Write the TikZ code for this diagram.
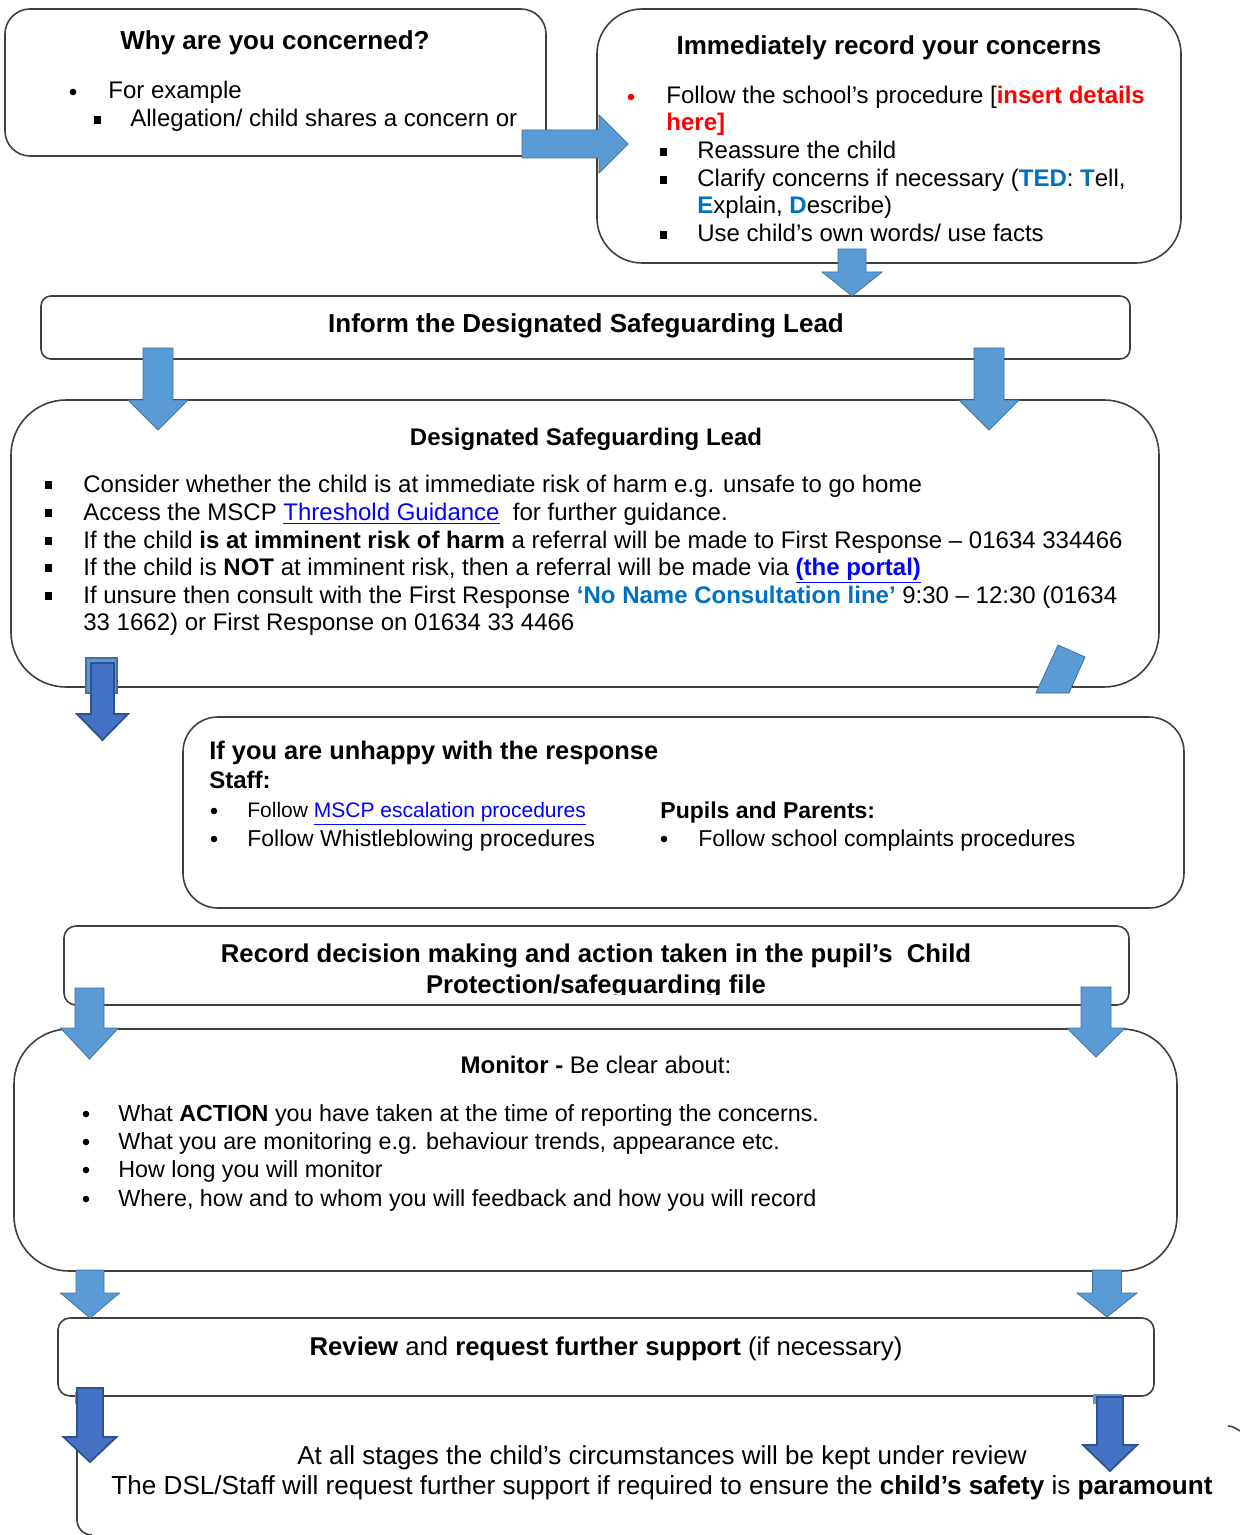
\documentclass[tikz,border=0pt]{standalone}
\usepackage{fontspec}
\setmainfont{Liberation Sans}
\usepackage{xcolor}
\definecolor{lightarrow}{HTML}{5B9BD5}
\definecolor{lightedge}{HTML}{41719C}
\definecolor{darkarrow}{HTML}{4472C4}
\definecolor{darkedge}{HTML}{2F528F}
\definecolor{boxline}{HTML}{404040}
\definecolor{tedblue}{HTML}{0070C0}
\definecolor{linkblue}{HTML}{0000FF}
\definecolor{redtext}{HTML}{FF0000}
\newcommand{\dnarrow}[7]{%
 \filldraw[#1] ({#2-#6},#3) -- ({#2+#6},#3) -- ({#2+#6},#4) -- ({#2+#7},#4) -- (#2,#5) -- ({#2-#7},#4) -- ({#2-#6},#4) -- cycle;}
\newcommand{\sqb}[2]{\fill ({#1-3.5},{#2-3.8}) rectangle ({#1+3.5},{#2+3.8});}
\newcommand{\rdb}[2]{\fill (#1,#2) circle[radius=3.3];}
\begin{document}
\begin{tikzpicture}[x=0.5pt,y=-0.5pt,
  boxst/.style={draw=boxline, line width=0.8pt, fill=white, rectangle, inner sep=0pt},
  ttl/.style={anchor=base, inner sep=0pt, font=\fontsize{13}{15}\selectfont\bfseries},
  body/.style={anchor=base west, inner sep=0pt, font=\fontsize{12}{14}\selectfont},
  bodys/.style={anchor=base west, inner sep=0pt, font=\fontsize{11.5}{14}\selectfont},
  bodym/.style={anchor=base west, inner sep=0pt, font=\fontsize{11.65}{14}\selectfont},
  lighta/.style={fill=lightarrow, draw=lightedge, line width=0.4pt},
  darka/.style={fill=darkarrow, draw=darkedge, line width=0.9pt}]
\useasboundingbox (0,0) rectangle (1240,1535);

% ---------- boxes ----------
\node[boxst, rounded corners=12.5pt, minimum width=270.5pt, minimum height=73.5pt] (why) at (275.5,82.5) {};
\node[boxst, rounded corners=22.5pt, minimum width=292pt, minimum height=127pt] (rec) at (889,136) {};
\node[boxst, rounded corners=5pt, minimum width=544.5pt, minimum height=31.5pt] (inform) at (585.5,327.5) {};
\node[boxst, rounded corners=27.5pt, minimum width=574pt, minimum height=143.5pt] (dsl) at (585,543.5) {};
\node[boxst, rounded corners=17.5pt, minimum width=500.5pt, minimum height=95.5pt] (unhappy) at (683.5,812.5) {};
\node[boxst, rounded corners=6pt, minimum width=532.5pt, minimum height=39.5pt] (record) at (596.5,965.5) {};
\node[boxst, rounded corners=27.5pt, minimum width=581.5pt, minimum height=121pt] (monitor) at (595.5,1150) {};
\node[boxst, rounded corners=6pt, minimum width=548pt, minimum height=39pt] (review) at (606,1357) {};
\coordinate (fintop) at (77,1447);
\coordinate (finbot) at (92,1535);
\draw[boxline, line width=0.8pt] (fintop) -- (77,1520) to[out=-90,in=180] (finbot);
\draw[boxline, line width=0.8pt] (1228,1426) to[out=0,in=150] (1240,1431);

% ---------- why ----------
\node[ttl] (whyt) at (275,50) {Why are you concerned?};
\rdb{73}{92}
\node[body] (why1) at (108,99) {For example};
\sqb{97}{120}
\node[body] (why2) at (130,127) {Allegation/ child shares a concern or};

% ---------- record concerns ----------
\node[ttl] (rect) at (889,55) {Immediately record your concerns};
{\color{redtext}\rdb{631}{97}}
\node[body] (rec1) at (666,104) {Follow the school’s procedure [{\bfseries\color{redtext}insert details}};
\node[body] (rec2) at (666,131) {{\bfseries\color{redtext}here]}};
\sqb{663}{152}
\node[body] (rec3) at (697,159) {Reassure the child};
\sqb{663}{180}
\node[body] (rec4) at (697,187) {Clarify concerns if necessary ({\bfseries\color{tedblue}TED}: {\bfseries\color{tedblue}T}ell,};
\node[body] (rec5) at (697,214) {{\bfseries\color{tedblue}E}xplain, {\bfseries\color{tedblue}D}escribe)};
\sqb{663}{235}
\node[body] (rec6) at (697,242) {Use child’s own words/ use facts};

% ---------- inform ----------
\node[ttl] (informt) at (586,333) {Inform the Designated Safeguarding Lead};

% ---------- DSL ----------
\node[ttl, font=\fontsize{12}{14}\selectfont\bfseries] (dslt) at (586,445) {Designated Safeguarding Lead};
\sqb{48}{485}
\node[body] (dsl1) at (83,492) {Consider whether the child is at immediate risk of harm e.g. unsafe to go home};
\sqb{48}{513}
\node[body] (dsl2) at (83,520) {Access the MSCP {\color{linkblue}\underline{Threshold Guidance}}\ \ for further guidance.};
\sqb{48}{541}
\node[body] (dsl3) at (83,548) {If the child \textbf{is at imminent risk of harm} a referral will be made to First Response – 01634 334466};
\sqb{48}{568}
\node[body] (dsl4) at (83,575) {If the child is \textbf{NOT} at imminent risk, then a referral will be made via {\bfseries\color{linkblue}\underline{(the portal)}}};
\sqb{48}{596}
\node[body] (dsl5) at (83,603) {If unsure then consult with the First Response {\bfseries\color{tedblue}‘No Name Consultation line’} 9:30 – 12:30 (01634};
\node[body] (dsl6) at (83,630) {33 1662) or First Response on 01634 33 4466};

% ---------- unhappy ----------
\node[anchor=base west, inner sep=0pt, font=\fontsize{12.7}{15}\selectfont\bfseries] (unt) at (209,759) {If you are unhappy with the response};
\node[anchor=base west, inner sep=0pt, font=\fontsize{12}{14}\selectfont\bfseries] (staff) at (209,788) {Staff:};
\rdb{214}{811}
\node[anchor=base west, inner sep=0pt, font=\fontsize{10.5}{13}\selectfont] (un1) at (247,817) {Follow {\color{linkblue}\underline{MSCP escalation procedures}}};
\rdb{214}{839}
\node[bodys] (un2) at (247,846) {Follow Whistleblowing procedures};
\node[anchor=base west, inner sep=0pt, font=\fontsize{11.5}{14}\selectfont\bfseries] (pupils) at (660,818) {Pupils and Parents:};
\rdb{664}{839}
\node[bodys] (un3) at (698,846) {Follow school complaints procedures};

% ---------- record decision ----------
\node[ttl, font=\fontsize{12.85}{15}\selectfont\bfseries] (recd1) at (596,962) {Record decision making and action taken in the pupil’s\ \ Child};
\begin{scope}
\clip (64,926) rectangle (1129,994);
\node[ttl, font=\fontsize{12.85}{15}\selectfont\bfseries] (recd2) at (596,993) {Protection/safeguarding file};
\end{scope}

% ---------- monitor ----------
\node[anchor=base, inner sep=0pt, font=\fontsize{12}{14}\selectfont] (mont) at (596,1073) {\textbf{Monitor -} Be clear about:};
\rdb{86}{1114}
\node[bodym] (mon1) at (118,1121) {What \textbf{ACTION} you have taken at the time of reporting the concerns.};
\rdb{86}{1142}
\node[bodym] (mon2) at (118,1149) {What you are monitoring e.g. behaviour trends, appearance etc.};
\rdb{86}{1170}
\node[bodym] (mon3) at (118,1177) {How long you will monitor};
\rdb{86}{1199}
\node[bodym] (mon4) at (118,1206) {Where, how and to whom you will feedback and how you will record};

% ---------- review ----------
\node[anchor=base, inner sep=0pt, font=\fontsize{12.85}{15}\selectfont] (revt) at (606,1355) {\textbf{Review} and \textbf{request further support} (if necessary)};

% ---------- final ----------
\node[anchor=base, inner sep=0pt, font=\fontsize{13}{15}\selectfont] (fin1) at (662,1464) {At all stages the child’s circumstances will be kept under review};
\node[anchor=base, inner sep=0pt, font=\fontsize{13.05}{15}\selectfont] (fin2) at (662,1494) {The DSL/Staff will request further support if required to ensure the \textbf{child’s safety} is \textbf{paramount}};

% ---------- block arrows ----------
\filldraw[lighta] (522,130) -- (599,130) -- (599,115) -- (628,144) -- (599,173) -- (599,158) -- (522,158) -- cycle;
\dnarrow{lighta}{852}{249}{272}{296}{14}{30}
\dnarrow{lighta}{158}{348}{400}{430}{15}{30}
\dnarrow{lighta}{989}{348}{400}{430}{15}{30}
% DSL -> unhappy (dark)
\fill[lightarrow] (86,658) rectangle (117,693);
\draw[lightedge, line width=0.6pt] (86,658) rectangle (117,693);
\dnarrow{darka}{102.5}{663}{714}{740}{11.5}{25.5}
% slanted stub
\filldraw[lighta] (1058,645) -- (1085,657) -- (1069,693) -- (1036,693) -- cycle;
% record -> monitor
\dnarrow{lighta}{89.5}{988}{1028}{1059}{14.5}{29}
\dnarrow{lighta}{1096}{987}{1028}{1057}{15}{29}
% monitor -> review
\dnarrow{lighta}{90}{1270}{1293}{1318}{14}{29.5}
\dnarrow{lighta}{1107}{1270}{1293}{1317}{14.5}{30}
% review -> final (dark)
\fill[lightarrow] (75,1392) rectangle (104,1404);
\fill[lightarrow] (1093,1394) rectangle (1122,1404);
\dnarrow{darka}{90}{1388}{1437}{1462}{13}{26.5}
\dnarrow{darka}{1110}{1397}{1445}{1471}{13}{27}
\end{tikzpicture}
\end{document}
